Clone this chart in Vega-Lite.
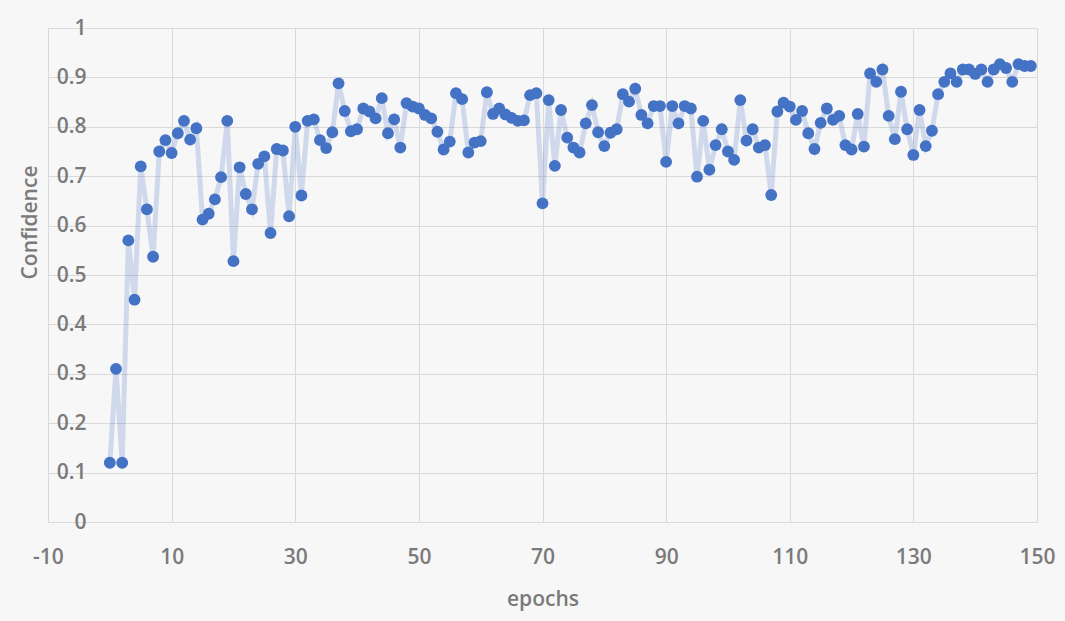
{
  "$schema": "https://vega.github.io/schema/vega-lite/v6.json",
  "autosize": {"type": "none"},
  "width": 989,
  "height": 494,
  "padding": {"left": 48, "top": 28, "right": 28, "bottom": 99},
  "background": "#f7f7f7",
  "data": {
    "values": [
      {"epoch": 0, "confidence": 0.12}, {"epoch": 1, "confidence": 0.31}, {"epoch": 2, "confidence": 0.12}, {"epoch": 3, "confidence": 0.57}, {"epoch": 4, "confidence": 0.45},
      {"epoch": 5, "confidence": 0.72}, {"epoch": 6, "confidence": 0.633}, {"epoch": 7, "confidence": 0.537}, {"epoch": 8, "confidence": 0.75}, {"epoch": 9, "confidence": 0.773},
      {"epoch": 10, "confidence": 0.747}, {"epoch": 11, "confidence": 0.787}, {"epoch": 12, "confidence": 0.812}, {"epoch": 13, "confidence": 0.774}, {"epoch": 14, "confidence": 0.797},
      {"epoch": 15, "confidence": 0.612}, {"epoch": 16, "confidence": 0.624}, {"epoch": 17, "confidence": 0.653}, {"epoch": 18, "confidence": 0.698}, {"epoch": 19, "confidence": 0.812},
      {"epoch": 20, "confidence": 0.528}, {"epoch": 21, "confidence": 0.718}, {"epoch": 22, "confidence": 0.664}, {"epoch": 23, "confidence": 0.633}, {"epoch": 24, "confidence": 0.725},
      {"epoch": 25, "confidence": 0.74}, {"epoch": 26, "confidence": 0.585}, {"epoch": 27, "confidence": 0.755}, {"epoch": 28, "confidence": 0.752}, {"epoch": 29, "confidence": 0.619},
      {"epoch": 30, "confidence": 0.8}, {"epoch": 31, "confidence": 0.661}, {"epoch": 32, "confidence": 0.812}, {"epoch": 33, "confidence": 0.815}, {"epoch": 34, "confidence": 0.773},
      {"epoch": 35, "confidence": 0.757}, {"epoch": 36, "confidence": 0.789}, {"epoch": 37, "confidence": 0.888}, {"epoch": 38, "confidence": 0.832}, {"epoch": 39, "confidence": 0.791},
      {"epoch": 40, "confidence": 0.795}, {"epoch": 41, "confidence": 0.837}, {"epoch": 42, "confidence": 0.831}, {"epoch": 43, "confidence": 0.817}, {"epoch": 44, "confidence": 0.858},
      {"epoch": 45, "confidence": 0.787}, {"epoch": 46, "confidence": 0.815}, {"epoch": 47, "confidence": 0.758}, {"epoch": 48, "confidence": 0.848}, {"epoch": 49, "confidence": 0.841},
      {"epoch": 50, "confidence": 0.837}, {"epoch": 51, "confidence": 0.824}, {"epoch": 52, "confidence": 0.817}, {"epoch": 53, "confidence": 0.79}, {"epoch": 54, "confidence": 0.754},
      {"epoch": 55, "confidence": 0.77}, {"epoch": 56, "confidence": 0.868}, {"epoch": 57, "confidence": 0.856}, {"epoch": 58, "confidence": 0.748}, {"epoch": 59, "confidence": 0.768},
      {"epoch": 60, "confidence": 0.771}, {"epoch": 61, "confidence": 0.87}, {"epoch": 62, "confidence": 0.826}, {"epoch": 63, "confidence": 0.837}, {"epoch": 64, "confidence": 0.825},
      {"epoch": 65, "confidence": 0.818}, {"epoch": 66, "confidence": 0.812}, {"epoch": 67, "confidence": 0.813}, {"epoch": 68, "confidence": 0.864}, {"epoch": 69, "confidence": 0.868},
      {"epoch": 70, "confidence": 0.645}, {"epoch": 71, "confidence": 0.854}, {"epoch": 72, "confidence": 0.721}, {"epoch": 73, "confidence": 0.834}, {"epoch": 74, "confidence": 0.778},
      {"epoch": 75, "confidence": 0.758}, {"epoch": 76, "confidence": 0.748}, {"epoch": 77, "confidence": 0.807}, {"epoch": 78, "confidence": 0.844}, {"epoch": 79, "confidence": 0.789},
      {"epoch": 80, "confidence": 0.761}, {"epoch": 81, "confidence": 0.788}, {"epoch": 82, "confidence": 0.795}, {"epoch": 83, "confidence": 0.866}, {"epoch": 84, "confidence": 0.851},
      {"epoch": 85, "confidence": 0.877}, {"epoch": 86, "confidence": 0.824}, {"epoch": 87, "confidence": 0.807}, {"epoch": 88, "confidence": 0.842}, {"epoch": 89, "confidence": 0.842},
      {"epoch": 90, "confidence": 0.729}, {"epoch": 91, "confidence": 0.842}, {"epoch": 92, "confidence": 0.807}, {"epoch": 93, "confidence": 0.842}, {"epoch": 94, "confidence": 0.837},
      {"epoch": 95, "confidence": 0.699}, {"epoch": 96, "confidence": 0.812}, {"epoch": 97, "confidence": 0.713}, {"epoch": 98, "confidence": 0.763}, {"epoch": 99, "confidence": 0.795},
      {"epoch": 100, "confidence": 0.75}, {"epoch": 101, "confidence": 0.733}, {"epoch": 102, "confidence": 0.854}, {"epoch": 103, "confidence": 0.772}, {"epoch": 104, "confidence": 0.795},
      {"epoch": 105, "confidence": 0.758}, {"epoch": 106, "confidence": 0.763}, {"epoch": 107, "confidence": 0.662}, {"epoch": 108, "confidence": 0.831}, {"epoch": 109, "confidence": 0.849},
      {"epoch": 110, "confidence": 0.841}, {"epoch": 111, "confidence": 0.814}, {"epoch": 112, "confidence": 0.832}, {"epoch": 113, "confidence": 0.787}, {"epoch": 114, "confidence": 0.755},
      {"epoch": 115, "confidence": 0.808}, {"epoch": 116, "confidence": 0.837}, {"epoch": 117, "confidence": 0.814}, {"epoch": 118, "confidence": 0.822}, {"epoch": 119, "confidence": 0.763},
      {"epoch": 120, "confidence": 0.754}, {"epoch": 121, "confidence": 0.826}, {"epoch": 122, "confidence": 0.76}, {"epoch": 123, "confidence": 0.908}, {"epoch": 124, "confidence": 0.891},
      {"epoch": 125, "confidence": 0.916}, {"epoch": 126, "confidence": 0.822}, {"epoch": 127, "confidence": 0.775}, {"epoch": 128, "confidence": 0.871}, {"epoch": 129, "confidence": 0.795},
      {"epoch": 130, "confidence": 0.743}, {"epoch": 131, "confidence": 0.834}, {"epoch": 132, "confidence": 0.761}, {"epoch": 133, "confidence": 0.792}, {"epoch": 134, "confidence": 0.866},
      {"epoch": 135, "confidence": 0.891}, {"epoch": 136, "confidence": 0.908}, {"epoch": 137, "confidence": 0.891}, {"epoch": 138, "confidence": 0.916}, {"epoch": 139, "confidence": 0.916},
      {"epoch": 140, "confidence": 0.907}, {"epoch": 141, "confidence": 0.916}, {"epoch": 142, "confidence": 0.891}, {"epoch": 143, "confidence": 0.916}, {"epoch": 144, "confidence": 0.927},
      {"epoch": 145, "confidence": 0.919}, {"epoch": 146, "confidence": 0.891}, {"epoch": 147, "confidence": 0.927}, {"epoch": 148, "confidence": 0.923}, {"epoch": 149, "confidence": 0.923}
    ]
  },
  "encoding": {
    "x": {
      "field": "epoch",
      "type": "quantitative",
      "scale": {"domain": [-10, 150], "nice": false, "zero": false},
      "axis": {
        "values": [-10, 10, 30, 50, 70, 90, 110, 130, 150],
        "labelExpr": "'' + datum.value",
        "title": "epochs",
        "labelFlush": false,
        "labelPadding": 35,
        "labelBaseline": "middle",
        "labelFont": "Open Sans",
        "labelFontSize": 21,
        "labelFontWeight": 600,
        "labelColor": "#7a7a7a",
        "titleFont": "Open Sans",
        "titleFontSize": 21,
        "titleFontWeight": 600,
        "titleColor": "#7a7a7a",
        "titleBaseline": "middle",
        "titleY": 77
      }
    },
    "y": {
      "field": "confidence",
      "type": "quantitative",
      "scale": {"domain": [0, 1], "nice": false},
      "axis": {
        "values": [0, 0.1, 0.2, 0.3, 0.4, 0.5, 0.6, 0.7, 0.8, 0.9, 1],
        "format": ".1~f",
        "title": "Confidence",
        "labelPadding": -38,
        "labelAlign": "right",
        "labelBaseline": "middle",
        "labelFont": "Open Sans",
        "labelFontSize": 21,
        "labelFontWeight": 600,
        "labelColor": "#7a7a7a",
        "titleFont": "Open Sans",
        "titleFontSize": 21,
        "titleFontWeight": 600,
        "titleColor": "#7a7a7a",
        "titleAngle": 270,
        "titleAlign": "center",
        "titleBaseline": "middle",
        "titleX": -18,
        "titleY": 194
      }
    }
  },
  "layer": [
    {"mark": {"type": "line", "stroke": "#4472c4", "strokeOpacity": 0.22, "strokeWidth": 5}},
    {"mark": {"type": "point", "filled": true, "size": 140, "color": "#4472c4", "opacity": 1}}
  ],
  "config": {
    "view": {"stroke": null},
    "axis": {"domain": false, "ticks": false, "tickSize": 0, "gridColor": "#d9d9d9", "gridWidth": 1, "labelBound": false}
  }
}
